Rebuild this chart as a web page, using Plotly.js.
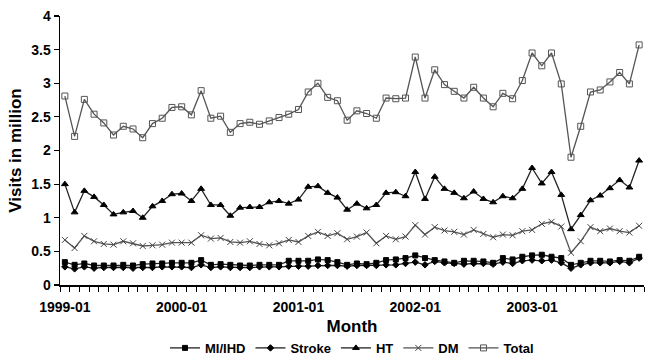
<!DOCTYPE html>
<html>
<head>
<meta charset="utf-8">
<script src="https://cdn.plot.ly/plotly-3.0.1.min.js"></script>
<style>html,body{margin:0;padding:0;background:#fff;}#chart{width:645px;height:356px;}</style>
</head>
<body>
<div id="chart"></div>
<script>
// Months 1999-01 .. 2003-12
const months = [];
for (let y = 1999; y <= 2003; y++) for (let m = 1; m <= 12; m++) months.push(y + '-' + String(m).padStart(2, '0'));
const tickLabels = ['1999-01', '2000-01', '2001-01', '2002-01', '2003-01'];

const miIhd = [0.34,0.30,0.32,0.29,0.29,0.29,0.30,0.29,0.31,0.32,0.32,0.33,
  0.33,0.33,0.37,0.30,0.31,0.30,0.29,0.29,0.30,0.30,0.30,0.36,
  0.36,0.36,0.38,0.37,0.34,0.30,0.32,0.31,0.33,0.37,0.38,0.40,
  0.44,0.40,0.37,0.35,0.33,0.36,0.36,0.35,0.33,0.40,0.38,0.42,
  0.44,0.45,0.42,0.40,0.30,0.33,0.36,0.36,0.35,0.37,0.36,0.42];
const stroke = [0.27,0.24,0.27,0.25,0.26,0.26,0.26,0.25,0.26,0.26,0.27,0.27,
  0.27,0.26,0.30,0.26,0.27,0.26,0.26,0.26,0.27,0.27,0.27,0.28,
  0.28,0.28,0.29,0.29,0.29,0.28,0.29,0.29,0.29,0.30,0.30,0.32,
  0.34,0.30,0.35,0.33,0.32,0.31,0.32,0.32,0.31,0.34,0.32,0.36,
  0.37,0.36,0.37,0.33,0.25,0.30,0.33,0.33,0.33,0.35,0.33,0.40];
const ht = [1.50,1.08,1.40,1.31,1.19,1.05,1.08,1.10,1.00,1.17,1.25,1.35,
  1.36,1.25,1.43,1.19,1.19,1.03,1.15,1.16,1.16,1.23,1.25,1.21,
  1.27,1.46,1.47,1.37,1.30,1.12,1.21,1.14,1.19,1.37,1.38,1.32,
  1.68,1.28,1.61,1.43,1.37,1.29,1.39,1.28,1.23,1.32,1.29,1.43,
  1.74,1.51,1.68,1.34,0.83,1.04,1.26,1.33,1.44,1.56,1.45,1.85];
const dm = [0.67,0.55,0.73,0.65,0.61,0.60,0.65,0.62,0.58,0.59,0.60,0.63,
  0.63,0.63,0.74,0.69,0.70,0.64,0.63,0.65,0.61,0.59,0.62,0.67,
  0.64,0.73,0.79,0.73,0.77,0.68,0.72,0.78,0.62,0.73,0.68,0.72,
  0.89,0.75,0.86,0.81,0.79,0.75,0.82,0.76,0.71,0.75,0.74,0.80,
  0.82,0.91,0.94,0.87,0.48,0.65,0.86,0.80,0.84,0.80,0.78,0.88];
const total = [2.81,2.21,2.76,2.54,2.41,2.23,2.36,2.32,2.19,2.40,2.48,2.64,
  2.65,2.53,2.89,2.48,2.51,2.27,2.40,2.42,2.39,2.44,2.49,2.54,
  2.61,2.87,3.00,2.79,2.74,2.45,2.59,2.55,2.48,2.78,2.77,2.78,
  3.39,2.78,3.20,2.98,2.88,2.78,2.94,2.78,2.65,2.85,2.77,3.04,
  3.45,3.26,3.45,2.99,1.90,2.36,2.87,2.90,3.02,3.16,2.99,3.57];

const idx = months.map((_, i) => i);
const tickIdx = tickLabels.map(t => months.indexOf(t));

const FONT = 'Liberation Sans, Arial, Helvetica, sans-serif';
function tr(name, y, symbol, size, color, lineColor) {
  return {
    type: 'scatter', mode: 'lines+markers', name: name, x: idx, y: y,
    text: months, hoverinfo: 'text+y',
    line: {color: lineColor, width: 1.3},
    marker: {symbol: symbol, size: size, color: color, line: {color: color, width: 1}}
  };
}
const data = [
  tr('MI/IHD', miIhd, 'square', 5, '#000', '#222'),
  tr('Stroke', stroke, 'diamond', 5, '#000', '#222'),
  tr('HT', ht, 'triangle-up', 6, '#000', '#222'),
  tr('DM', dm, 'x-thin-open', 6, '#444', '#555'),
  tr('Total', total, 'square-open', 6, '#555', '#555')
];

const layout = {
  width: 645, height: 356,
  margin: {l: 60, r: 1, t: 16, b: 71, autoexpand: false},
  paper_bgcolor: '#fff', plot_bgcolor: '#fff',
  font: {family: FONT, size: 14, color: '#000', weight: 'bold'},
  showlegend: true,
  legend: {orientation: 'h', x: 0.5, xanchor: 'center', y: -0.234, yanchor: 'middle',
           font: {family: FONT, size: 13, weight: 'bold', color: '#000'}, bgcolor: 'rgba(0,0,0,0)'},
  xaxis: {
    range: [-0.5, 59.5], tickmode: 'array', tickvals: tickIdx, ticktext: tickLabels,
    ticks: '', showgrid: false, zeroline: false, showline: true, linecolor: '#000', linewidth: 1.5,
    ticklabelstandoff: 9, automargin: false,
    tickfont: {family: FONT, size: 14, weight: 'bold'},
    minor: {tickmode: 'linear', tick0: -0.5, dtick: 1, ticks: 'outside', ticklen: 5, tickcolor: '#000', tickwidth: 1, showgrid: false},
    title: {text: 'Month', font: {family: FONT, size: 17, weight: 'bold'}, standoff: 6}
  },
  yaxis: {
    range: [0, 4], dtick: 0.5, ticks: 'outside', ticklen: 5, tickcolor: '#000', tickwidth: 1.2,
    showgrid: false, zeroline: false, showline: true, linecolor: '#000', linewidth: 1.5,
    automargin: false,
    tickfont: {family: FONT, size: 14, weight: 'bold'},
    title: {text: 'Visits in million', font: {family: FONT, size: 17, weight: 'bold'}, standoff: 5}
  }
};
Plotly.newPlot('chart', data, layout, {displayModeBar: false, staticPlot: true});
</script>
</body>
</html>
